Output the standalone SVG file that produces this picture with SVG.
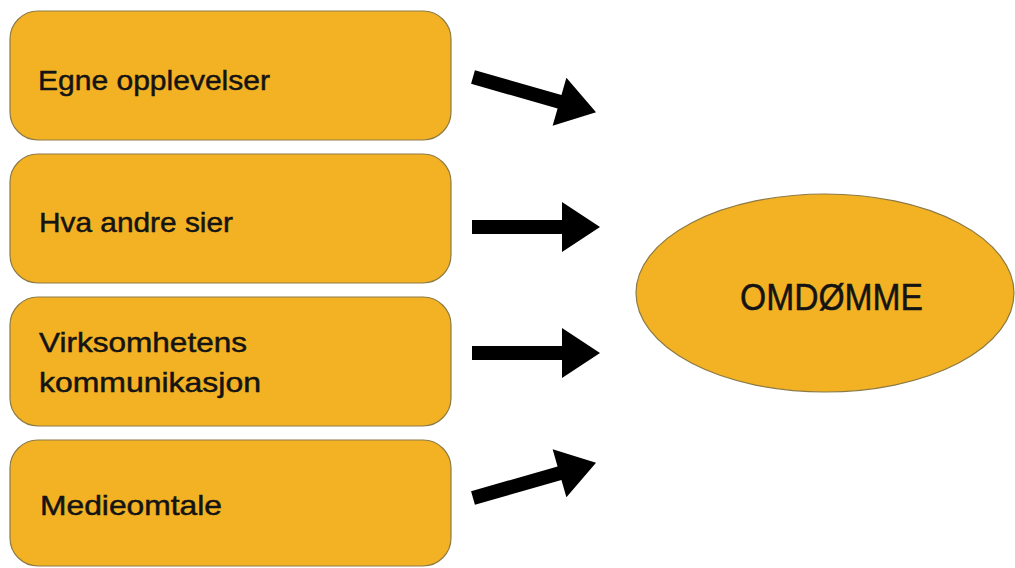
<svg xmlns="http://www.w3.org/2000/svg" width="1015" height="568" viewBox="0 0 1015 568">
<style>
.box{fill:#F3B223;stroke:#8C7A45;stroke-width:1.2}
.t{font-family:"Liberation Sans",Arial,sans-serif;font-size:28px;fill:#141414;stroke:#141414;stroke-width:0.5}
.big{font-size:36px}
.arrow{fill:#000}
</style>
<defs>
<polygon id="arr" points="0,-7 90,-7 90,-25 128,0 90,25 90,7 0,7"/>
</defs>
<rect width="1015" height="568" fill="#fff"/>
<g id="n1"><rect class="box" x="10" y="11" width="441" height="129" rx="28"/><text class="t" x="38" y="90" textLength="232" lengthAdjust="spacingAndGlyphs">Egne opplevelser</text></g>
<g id="n2"><rect class="box" x="10" y="154" width="441" height="129" rx="28"/><text class="t" x="39" y="232" textLength="194" lengthAdjust="spacingAndGlyphs">Hva andre sier</text></g>
<g id="n3"><rect class="box" x="10" y="297" width="441" height="129" rx="28"/><text class="t" x="39" y="352" textLength="208" lengthAdjust="spacingAndGlyphs">Virksomhetens</text><text class="t" x="39" y="392" textLength="222" lengthAdjust="spacingAndGlyphs">kommunikasjon</text></g>
<g id="n4"><rect class="box" x="10" y="440" width="441" height="126" rx="28"/><text class="t" x="40" y="515" textLength="182" lengthAdjust="spacingAndGlyphs">Medieomtale</text></g>
<g id="n5"><ellipse class="box" cx="825" cy="293" rx="189" ry="99"/><text class="t big" x="740" y="310" textLength="183" lengthAdjust="spacingAndGlyphs">OMDØMME</text></g>
<g id="connectors" class="arrow">
<use href="#arr" transform="translate(473,77) rotate(16)"/>
<use href="#arr" transform="translate(472,227)"/>
<use href="#arr" transform="translate(472,353)"/>
<use href="#arr" transform="translate(473,498) rotate(-16)"/>
</g>
</svg>
